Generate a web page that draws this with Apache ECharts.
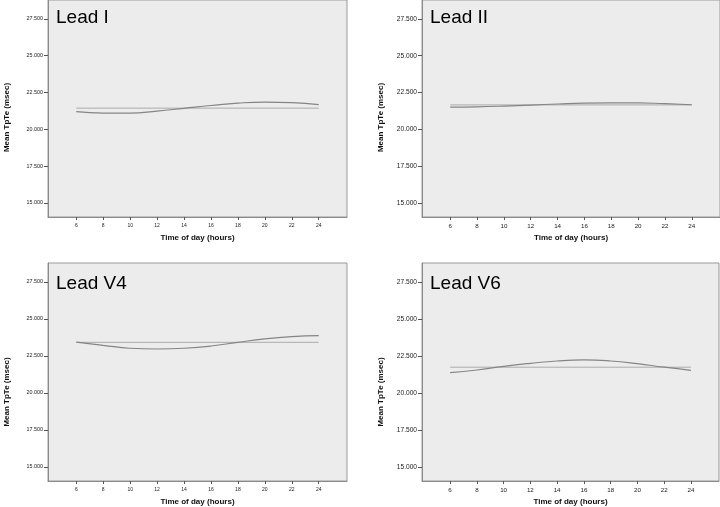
<!DOCTYPE html>
<html>
<head>
<meta charset="utf-8">
<script src="https://cdn.jsdelivr.net/npm/echarts@6/dist/echarts.min.js"></script>
<style>
html,body{margin:0;padding:0;background:#fff;}
#c{width:720px;height:507px;}
</style>
</head>
<body>
<div id="c"></div>
<script>
// ---- data ----
const hours = [6, 8, 10, 12, 14, 16, 18, 20, 22, 24];
const leadI  = [21.20, 21.10, 21.10, 21.24, 21.43, 21.62, 21.78, 21.85, 21.81, 21.68];
const leadII = [21.51, 21.53, 21.58, 21.65, 21.72, 21.78, 21.80, 21.80, 21.74, 21.67];
const leadV4 = [23.43, 23.22, 23.02, 22.97, 23.02, 23.17, 23.42, 23.65, 23.80, 23.87];
const leadV6 = [21.37, 21.55, 21.80, 22.00, 22.16, 22.23, 22.16, 21.98, 21.74, 21.53];
const means  = [21.44, 21.66, 23.42, 21.74];
const panelTitles = ['Lead I', 'Lead II', 'Lead V4', 'Lead V6'];
const yTicks = [15, 17.5, 20, 22.5, 25, 27.5];
const xTicks = [6, 8, 10, 12, 14, 16, 18, 20, 22, 24];
const xTitle = 'Time of day (hours)';
const yTitle = 'Mean TpTe (msec)';

const curves = [leadI, leadII, leadV4, leadV6];

// ---- layout ----
const grids = [
  {left: 48, top: -1, width: 299, height: 218},
  {left: 422, top: -1, width: 299, height: 218},
  {left: 48, top: 263, width: 299, height: 218},
  {left: 422, top: 263, width: 297, height: 218}
];
const tickFont = [5.4, 6.6, 5.4, 6.6];
const FONT = 'Liberation Sans, Arial, sans-serif';

const option = {
  backgroundColor: '#ffffff',
  animation: false,
  title: panelTitles.map((t, i) => ({
    text: t,
    left: grids[i].left + 8,
    top: grids[i].top + (i < 2 ? 9 : 11),
    padding: 0,
    textStyle: {fontFamily: FONT, fontSize: 19, fontWeight: 'normal', color: '#000'}
  })),
  grid: grids.map(g => Object.assign({
    show: true, backgroundColor: '#ececec', borderColor: '#9a9a9a', borderWidth: 1,
    containLabel: false
  }, g)),
  xAxis: grids.map((g, i) => ({
    type: 'value', gridIndex: i, min: 3.9, max: 26.1,
    axisLine: {show: true, onZero: false, lineStyle: {color: '#8a8a8a', width: 1}},
    splitLine: {show: false},
    axisTick: {show: true, customValues: xTicks, length: 3, lineStyle: {color: '#555'}},
    axisLabel: {show: true, customValues: xTicks, margin: 6, fontFamily: FONT,
      fontSize: tickFont[i] - 0.4, color: '#222'},
    name: xTitle, nameLocation: 'middle', nameGap: 17,
    nameTextStyle: {fontFamily: FONT, fontSize: 8, fontWeight: 'bold', color: '#111'}
  })),
  yAxis: grids.map((g, i) => ({
    type: 'value', gridIndex: i, min: 14.05, max: 28.78,
    axisLine: {show: true, onZero: false, lineStyle: {color: '#8a8a8a', width: 1}},
    splitLine: {show: false},
    axisTick: {show: true, customValues: yTicks, length: 4, lineStyle: {color: '#555'}},
    axisLabel: {show: true, customValues: yTicks, margin: 5, fontFamily: FONT,
      fontSize: tickFont[i], color: '#222', formatter: v => v.toFixed(3)},
    name: yTitle, nameLocation: 'middle', nameGap: 37, nameRotate: 90,
    nameTextStyle: {fontFamily: FONT, fontSize: 8, fontWeight: 'bold', color: '#111',
      padding: [0, i < 2 ? 18 : 40, 0, 0]}
  })),
  series: []
};

curves.forEach((vals, i) => {
  option.series.push({
    type: 'line', xAxisIndex: i, yAxisIndex: i, showSymbol: false, smooth: 0.5,
    data: hours.map((h, k) => [h, vals[k]]),
    lineStyle: {color: '#858585', width: 1.2}, z: 3
  });
  option.series.push({
    type: 'line', xAxisIndex: i, yAxisIndex: i, showSymbol: false,
    data: [[hours[0], means[i]], [hours[hours.length - 1], means[i]]],
    lineStyle: {color: '#ababab', width: 1}, z: 2
  });
});

const chart = echarts.init(document.getElementById('c'), null, {renderer: 'canvas'});
chart.setOption(option);
</script>
</body>
</html>
